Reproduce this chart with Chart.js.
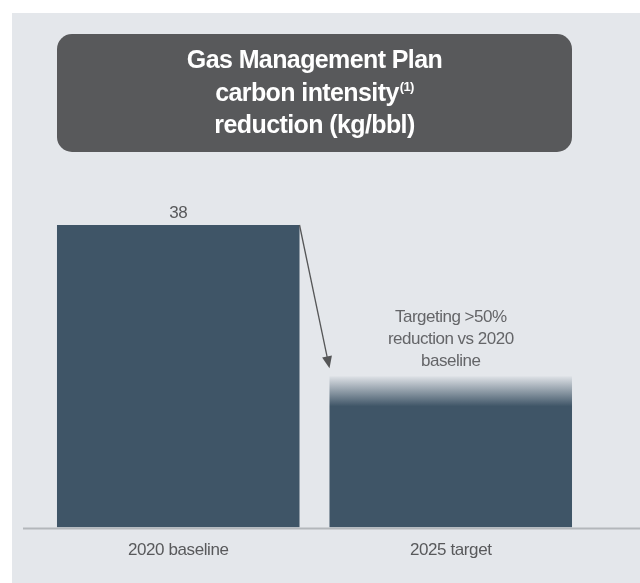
<!DOCTYPE html>
<html>
<head>
<meta charset="utf-8">
<script src="https://cdn.jsdelivr.net/npm/chart.js@4.4.1/dist/chart.umd.min.js"></script>
<style>
  html, body { margin: 0; padding: 0; background: #ffffff; }
  #wrap { width: 640px; height: 583px; position: relative; }
</style>
</head>
<body>
<div id="wrap"><canvas id="myChart"></canvas></div>
<script>
// categorias e valores (kg/bbl)
const categorias = ['2020 baseline', '2025 target'];
const valores = [38, 19];
const rotulos = ['38', ''];
const titulo = ['Gas Management Plan', 'carbon intensity', 'reduction (kg/bbl)'];
const notaMeta = ['Targeting >50%', 'reduction vs 2020', 'baseline'];

const corBarra = '#3f5567';
const corFundo = '#e4e7eb';
const fonte = '"Liberation Sans", Arial, sans-serif';

// fundo cinza + caixa do titulo
const fundoPlugin = {
  id: 'fundo',
  beforeDraw(chart) {
    const ctx = chart.ctx;
    ctx.save();
    ctx.fillStyle = '#ffffff';
    ctx.fillRect(0, 0, chart.width, chart.height);
    ctx.fillStyle = corFundo;
    ctx.fillRect(12, 13, chart.width - 12, chart.height - 13);

    // caixa arredondada
    ctx.fillStyle = '#58595b';
    ctx.beginPath();
    ctx.roundRect(57, 34, 515, 118, 15);
    ctx.fill();

    ctx.fillStyle = '#ffffff';
    ctx.textAlign = 'center';
    ctx.textBaseline = 'alphabetic';
    ctx.font = 'bold 25px ' + fonte;
    ctx.letterSpacing = '-0.6px';
    const cx = 314.5;
    ctx.fillText(titulo[0], cx, 68);
    // segunda linha com o (1) sobrescrito
    const w2 = ctx.measureText(titulo[1]).width;
    ctx.font = 'bold 13px ' + fonte;
    const wSup = ctx.measureText('(1)').width;
    const x0 = cx - (w2 + wSup + 1) / 2;
    ctx.font = 'bold 25px ' + fonte;
    ctx.textAlign = 'left';
    ctx.fillText(titulo[1], x0, 100.5);
    ctx.font = 'bold 13px ' + fonte;
    ctx.fillText('(1)', x0 + w2 + 1, 91);
    ctx.textAlign = 'center';
    ctx.font = 'bold 25px ' + fonte;
    ctx.fillText(titulo[2], cx, 133);
    ctx.restore();
    ctx.letterSpacing = '-0.4px';
  }
};

// linha do eixo, valor, seta e texto da meta
const extrasPlugin = {
  id: 'extras',
  afterDatasetsDraw(chart) {
    const ctx = chart.ctx;
    const area = chart.chartArea;
    const barras = chart.getDatasetMeta(0).data;
    ctx.save();

    // linha base
    ctx.strokeStyle = '#b3b7bb';
    ctx.lineWidth = 2;
    ctx.beginPath();
    ctx.moveTo(23, area.bottom + 1);
    ctx.lineTo(chart.width, area.bottom + 1);
    ctx.stroke();

    ctx.fillStyle = '#58595b';
    ctx.font = '17px ' + fonte;
    ctx.letterSpacing = '-0.5px';
    ctx.textAlign = 'center';
    ctx.textBaseline = 'alphabetic';
    barras.forEach(function(b, i) {
      if (rotulos[i]) ctx.fillText(rotulos[i], b.x, b.y - 7);
    });

    // texto acima da barra de 2025
    const b2 = barras[1];
    ctx.fillStyle = '#646568';
    notaMeta.forEach(function(linha, i) {
      ctx.fillText(linha, b2.x, b2.y - 54 + i * 22);
    });

    // seta da barra 2020 para 2025
    const b1 = barras[0];
    const x1 = b1.x + b1.width / 2, y1 = b1.y;
    const x2 = b2.x - b2.width / 2, y2 = b2.y - 8;
    const ang = Math.atan2(y2 - y1, x2 - x1);
    ctx.strokeStyle = '#555657';
    ctx.fillStyle = '#555657';
    ctx.lineWidth = 1.3;
    ctx.beginPath();
    ctx.moveTo(x1, y1);
    ctx.lineTo(x2 - 9 * Math.cos(ang), y2 - 9 * Math.sin(ang));
    ctx.stroke();
    ctx.beginPath();
    ctx.moveTo(x2, y2);
    ctx.lineTo(x2 - 12 * Math.cos(ang) + 5 * Math.sin(ang), y2 - 12 * Math.sin(ang) - 5 * Math.cos(ang));
    ctx.lineTo(x2 - 12 * Math.cos(ang) - 5 * Math.sin(ang), y2 - 12 * Math.sin(ang) + 5 * Math.cos(ang));
    ctx.closePath();
    ctx.fill();
    ctx.restore();
  }
};

const ctx = document.getElementById('myChart').getContext('2d');
const myChart = new Chart(ctx, {
  type: 'bar',
  data: {
    labels: categorias,
    datasets: [{
      data: valores,
      borderWidth: 0,
      barPercentage: 1,
      categoryPercentage: 0.89,
      backgroundColor: function(c) {
        const chart = c.chart;
        if (c.dataIndex !== 1 || !chart.chartArea) return corBarra;
        // topo da meta esmaecido
        const topo = chart.scales.y.getPixelForValue(valores[1]);
        const g = chart.ctx.createLinearGradient(0, topo, 0, topo + 30);
        g.addColorStop(0, 'rgba(63,85,103,0.04)');
        g.addColorStop(1, 'rgba(63,85,103,1)');
        return g;
      }
    }]
  },
  options: {
    responsive: true,
    maintainAspectRatio: false,
    animation: false,
    layout: { padding: { top: 225, left: 42, right: 53, bottom: 9 } },
    plugins: {
      legend: { display: false },
      tooltip: { enabled: false }
    },
    scales: {
      y: { display: false, min: 0, max: 38 },
      x: {
        grid: { display: false, drawTicks: false },
        border: { display: false },
        ticks: {
          color: '#58595b',
          padding: 13,
          font: { family: fonte, size: 17 }
        }
      }
    }
  },
  plugins: [fundoPlugin, extrasPlugin]
});
</script>
</body>
</html>
